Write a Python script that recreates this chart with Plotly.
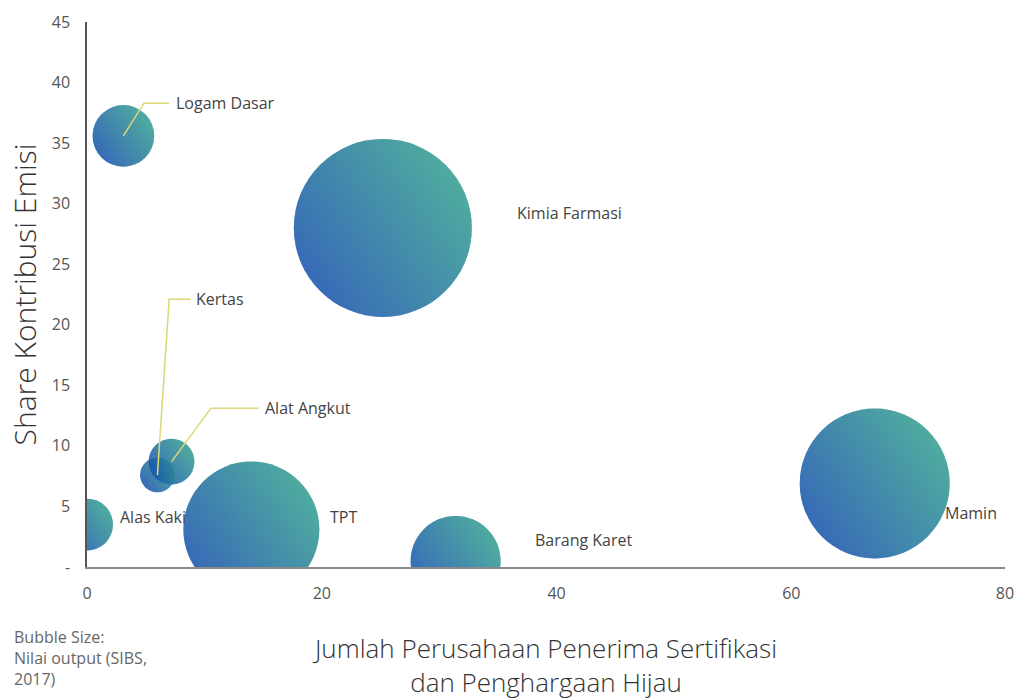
import plotly.graph_objects as go

# Sector data
sektor = ["Logam Dasar", "Kimia Farmasi", "Kertas", "Alat Angkut",
          "Alas Kaki", "TPT", "Barang Karet", "Mamin"]
jumlah_perusahaan = [3.1, 25.2, 6.0, 7.2, 0.0, 14.0, 31.4, 67.1]
share_emisi = [35.6, 28.0, 7.6, 8.7, 3.5, 3.1, 0.5, 6.9]
nilai_output = [38, 317, 12, 21, 27, 185, 81, 225]

# Label placement (left edge of each label, data units)
label_x = [7.4, 36.5, 9.1, 15.0, 2.6, 20.5, 38.0, 72.9]
label_y = [38.3, 29.2, 22.1, 13.1, 4.1, 4.1, 2.2, 4.5]

# Leader lines: elbow point and end of horizontal run
leader_elbow = {"Logam Dasar": (4.85, 38.3), "Kertas": (7.0, 22.1), "Alat Angkut": (10.55, 13.1)}
leader_end_x = {"Logam Dasar": 7.0, "Kertas": 8.85, "Alat Angkut": 14.6}

y_ticks = [0, 5, 10, 15, 20, 25, 30, 35, 40, 45]
y_ticktext = ["-", "5", "10", "15", "20", "25", "30", "35", "40", "45"]
x_ticks = [0, 20, 40, 60, 78.2]
x_ticktext = ["0", "20", "40", "60", "80"]

BLUE = "#0f42b0"
TEAL = "#35ab88"
FONT = "Open Sans"

max_diam = 178
sizeref = 2 * max(nilai_output) / max_diam ** 2

fig = go.Figure()

# Vertical gradient layer (teal at top, blue at bottom)
fig.add_trace(go.Scatter(
    x=jumlah_perusahaan, y=share_emisi, mode="markers",
    marker=dict(size=nilai_output, sizemode="area", sizeref=sizeref,
                color=TEAL, gradient=dict(type="vertical", color=BLUE),
                line=dict(width=0)),
    hovertext=sektor, showlegend=False,
))
# Horizontal gradient layer (blue left, teal right) blended on top -> diagonal sweep
fig.add_trace(go.Scatter(
    x=jumlah_perusahaan, y=share_emisi, mode="markers",
    marker=dict(size=nilai_output, sizemode="area", sizeref=sizeref,
                color=BLUE, gradient=dict(type="horizontal", color=TEAL),
                line=dict(width=0), opacity=0.5),
    hovertext=sektor, showlegend=False,
))

# Leader lines
for i, name in enumerate(sektor):
    if name in leader_elbow:
        ex, ey = leader_elbow[name]
        fig.add_trace(go.Scatter(
            x=[jumlah_perusahaan[i], ex, leader_end_x[name]],
            y=[share_emisi[i], ey, ey],
            mode="lines", line=dict(color="#dcd87a", width=1.5),
            hoverinfo="skip", showlegend=False,
        ))

# Sector labels
for i, name in enumerate(sektor):
    fig.add_annotation(x=label_x[i], y=label_y[i], text=name, showarrow=False,
                       xanchor="left", yanchor="middle",
                       font=dict(family=FONT, size=16, color="#444444"))

fig.add_annotation(
    xref="paper", yref="paper", x=-0.082, y=-0.104,
    text="Bubble Size:<br>Nilai output (SIBS,<br>2017)", showarrow=False,
    xanchor="left", yanchor="top", align="left",
    font=dict(family=FONT, size=16, color="#666666"),
)

fig.update_layout(
    width=1020, height=700,
    margin=dict(l=87, r=15, t=22, b=133),
    paper_bgcolor="white", plot_bgcolor="white",
    font=dict(family=FONT, color="#444444"),
    xaxis=dict(
        range=[0, 78.2], tickvals=x_ticks, ticktext=x_ticktext,
        showgrid=False, zeroline=False, automargin=False,
        showline=True, linecolor="#8a8a8a", linewidth=2,
        ticks="", ticklabelstandoff=11,
        tickfont=dict(family=FONT, size=16, color="#555555"),
        title=dict(text="Jumlah Perusahaan Penerima Sertifikasi<br>dan Penghargaan Hijau",
                   font=dict(family=FONT, size=26, color="#333333", weight=300),
                   standoff=37),
    ),
    yaxis=dict(
        range=[0, 45], tickvals=y_ticks, ticktext=y_ticktext,
        showgrid=False, zeroline=False, automargin=False,
        showline=True, linecolor="#555555", linewidth=1.5,
        ticks="", ticklabelstandoff=12,
        tickfont=dict(family=FONT, size=16, color="#555555"),
        title=dict(text="Share Kontribusi Emisi",
                   font=dict(family=FONT, size=30, color="#333333", weight=300),
                   standoff=6),
    ),
)

fig.write_html("out.html")
